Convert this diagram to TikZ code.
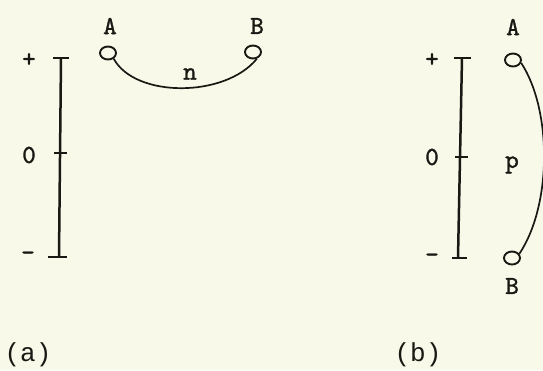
\documentclass[tikz,border=0pt]{standalone}
\usepackage{fontspec}
\setmonofont{Liberation Mono}
\newfontfamily\typew{lmmono10-regular.otf}[FakeBold=1.3]
\usetikzlibrary{shapes.geometric}
\definecolor{paper}{RGB}{249,249,234}
\definecolor{ink}{RGB}{25,25,20}
\begin{document}
\begin{tikzpicture}[x=1pt,y=-1pt,
  lab/.style={font=\typew\fontsize{26}{26}\selectfont, text=ink, inner sep=0pt},
  captext/.style={font=\ttfamily\fontsize{26}{26}\selectfont, text=ink, inner sep=0pt},
  term/.style={ellipse, draw=ink, line width=1.9pt, minimum width=16pt, minimum height=13pt, inner sep=0pt},
  bar/.style={draw=ink, line width=2.5pt},
  wire/.style={draw=ink, line width=1.7pt}]
\fill[paper] (0,0) rectangle (543,370);
\useasboundingbox (0,0) rectangle (543,370);
% ---------- (a) ----------
\coordinate (aTop) at (61,58);
\coordinate (aMid) at (60,153);
\coordinate (aBot) at (59,257);
\draw[bar] (aTop) -- (aBot);
\draw[bar] (53,58) -- (69,58);
\draw[bar] (54,153) -- (67,153);
\draw[bar] (48,257) -- (67,257);
\node[lab] (aplus) at (29,60) {+};
\node[lab] (azero) at (29,155) {0};
\node[lab] (aminus) at (28,256) {-};
\node[term] (aA) at (108,53) {};
\node[term] (aB) at (253,52) {};
\node[lab] (aAl) at (110,26) {A};
\node[lab] (aBl) at (257,26) {B};
\draw[wire] (aA.-45) .. controls (135,98) and (225,98) .. (aB.-60);
\node[lab] (an) at (190,74) {n};
\node[captext] (acap) at (28,355) {(a)};
% ---------- (b) ----------
\coordinate (bTop) at (462,58);
\coordinate (bMid) at (460,157);
\coordinate (bBot) at (458,258);
\draw[bar] (bTop) -- (bBot);
\draw[bar] (454,58) -- (471,58);
\draw[bar] (455,157) -- (468,157);
\draw[bar] (452,258) -- (467,258);
\node[lab] (bplus) at (432,60) {+};
\node[lab] (bzero) at (432,157) {0};
\node[lab] (bminus) at (432,258) {-};
\node[term] (bA) at (513,60) {};
\node[term] (bB) at (512,258) {};
\node[lab] (bAl) at (513,27) {A};
\node[lab] (bBl) at (512,286) {B};
\draw[wire] (bA.-20) .. controls (552,110) and (552,205) .. (bB.30);
\node[lab] (bp) at (512,165) {p};
\node[captext] (bcap) at (418,355) {(b)};
\end{tikzpicture}
\end{document}
